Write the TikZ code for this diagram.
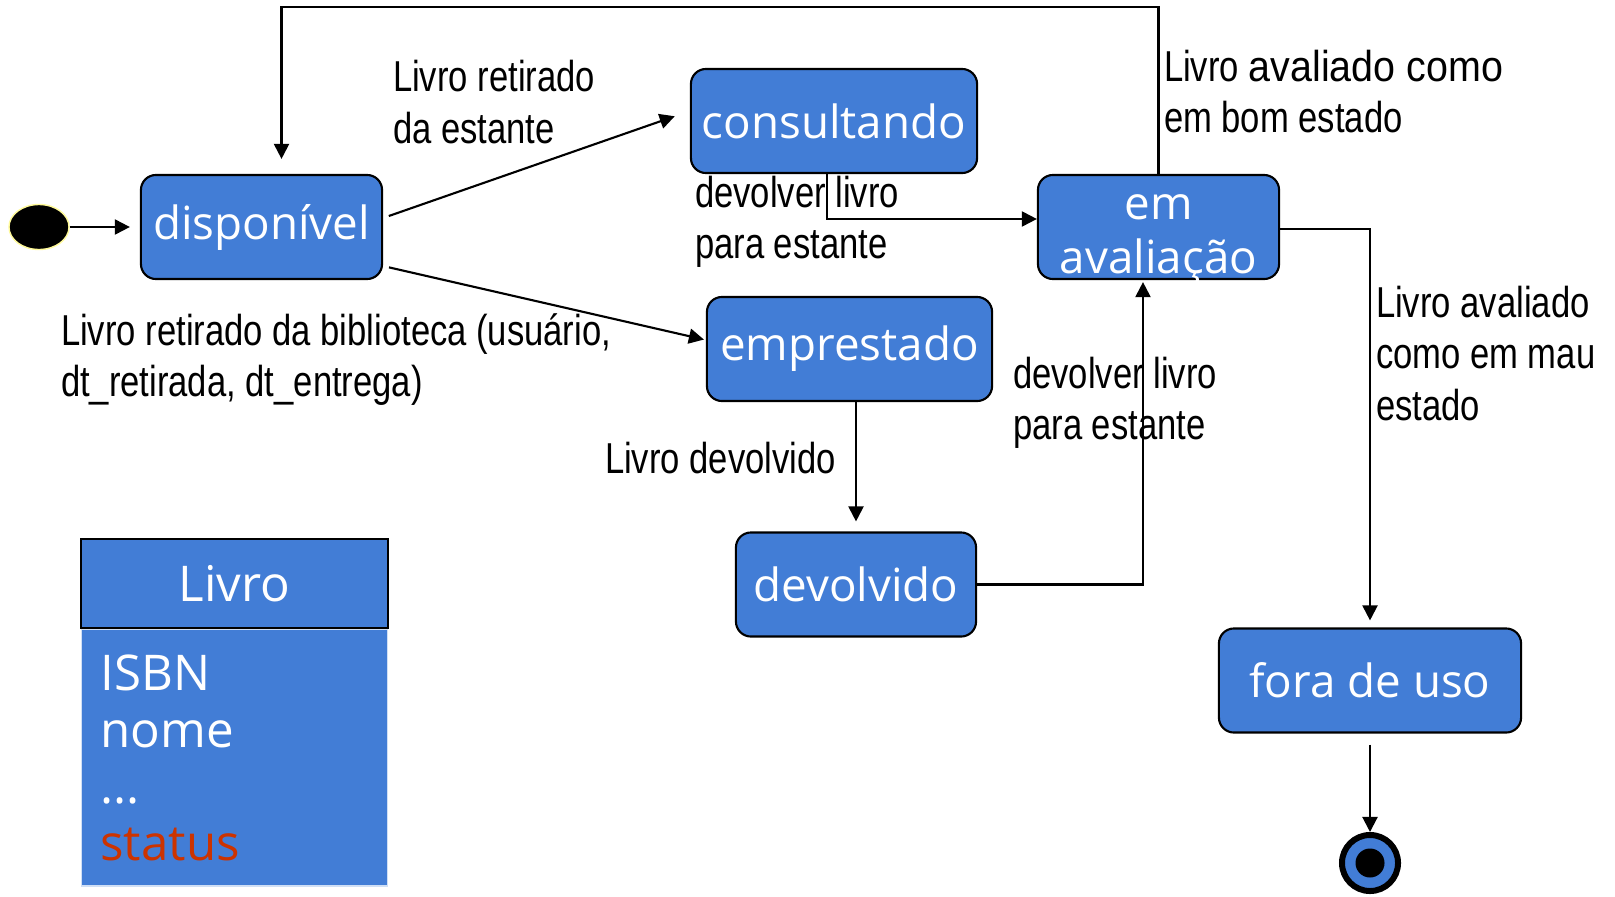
\documentclass[tikz,border=0pt]{standalone}
\usepackage{fontspec}
\setmainfont{Liberation Sans}[FakeStretch=0.8]
\newfontfamily\statefont{Open Sans}
\usetikzlibrary{arrows.meta,positioning,shapes.geometric}
\definecolor{stateblue}{RGB}{66,125,214}
\definecolor{attrred}{RGB}{204,51,0}
\newcommand{\lowline}[1]{\raisebox{-0.124cm}[\height][\depth]{#1}}

\begin{document}
\begin{tikzpicture}[x=0.01cm, y=-0.01cm, ->, >={Triangle[length=0.15cm,width=0.15cm]}, line width=0.6pt]
  \tikzstyle{statebox}=[rectangle, rounded corners=0.15cm, draw, fill=stateblue, text=white, minimum height=1.04cm, inner sep=0pt, align=center, font=\statefont\fontsize{13}{15.2}\selectfont]
  \tikzstyle{edgetext}=[inner sep=0pt, anchor=west, align=left, font=\fontsize{12.3}{14.6}\selectfont]
  \tikzstyle{classbox}=[rectangle, fill=stateblue, text=white, minimum width=3.06cm, inner sep=0pt]

  \useasboundingbox (0,0) rectangle (1615,897);

  \node[ellipse, fill=black, draw=yellow!40, thin, minimum width=0.6cm, minimum height=0.45cm, inner sep=0pt] (start) at (39,227) {};
  \node[circle, draw=black, line width=0.06cm, fill=stateblue, minimum size=0.56cm, inner sep=0pt] (stop) at (1370,863) {};
  \node[circle, fill=black, minimum size=0.29cm, inner sep=0pt] (stopdot) at (stop) {};

  \node[statebox, minimum width=2.41cm] (disp) at (261.5,227) {disponível};
  \node[statebox, minimum width=2.86cm] (cons) at (834,121) {consultando};
  \node[statebox, minimum width=2.41cm] (aval) at (1158.5,227) {\lowline{em}\\\lowline{avaliação}};
  \node[statebox, minimum width=2.85cm] (empr) at (849.5,349) {emprestado};
  \node[statebox, minimum width=2.40cm] (devo) at (856,584.5) {devolvido};
  \node[statebox, minimum width=3.02cm] (fora) at (1370,680.5) {fora de uso};

  \node[classbox, draw=black, minimum height=0.89cm, font=\statefont\fontsize{14}{16}\selectfont] (livro) at (234.5,583.5) {Livro};
  \node[classbox, draw=white!75!stateblue, thin, minimum height=2.56cm, text width=2.68cm, inner xsep=0.19cm, align=left, below=0pt of livro, font=\statefont\fontsize{14}{16.1}\selectfont] (attrs) {ISBN\\nome\\...\\\textcolor{attrred}{status}};

  \node[edgetext] (lret) at (392,102) {Livro retirado\\da estante};
  \node[edgetext] (ldev1) at (694,221.5) {devolver livro\\para estante};
  \node[edgetext] (lbom) at (1163,91.5) {Livro \scalebox{1.14}[1]{avaliado como}\\em bom estado};
  \node[edgetext] (lbib) at (60,359.5) {Livro retirado da biblioteca (usuário,\\dt\_retirada, dt\_entrega)};
  \node[edgetext] (ldev2) at (1012,403) {devolver livro\\para estante};
  \node[edgetext] (ldevolvido) at (604,458) {Livro devolvido};
  \node[edgetext] (lmau) at (1375,353.5) {Livro avaliado\\como em mau\\estado};

  \path (start) edge[shorten >=0.1cm] (disp);
  \path ([yshift=0.09cm]disp.east) edge[shorten <=0.06cm, shorten >=0.16cm] ([yshift=0.1cm]cons.west);
  \path ([yshift=-0.39cm]disp.east) edge[shorten <=0.06cm, shorten >=0.02cm] ([yshift=0.09cm]empr.west);
  \draw ([xshift=-0.07cm]cons.south) |- ([yshift=0.08cm]aval.west);
  \path (empr.south -| devo.north) edge[shorten >=0.1cm] (devo.north);
  \draw[shorten >=0.02cm] (devo.east) -| ([xshift=-0.155cm]aval.south);
  \draw[shorten >=0.15cm] (aval.north) -- ++(0,-167) -| ([xshift=0.2cm]disp.north);
  \draw[shorten >=0.07cm] ([yshift=-0.02cm]aval.east) -| (fora.north);
  \path (fora.south) edge[shorten <=0.11cm] (stop.north);
\end{tikzpicture}
\end{document}
